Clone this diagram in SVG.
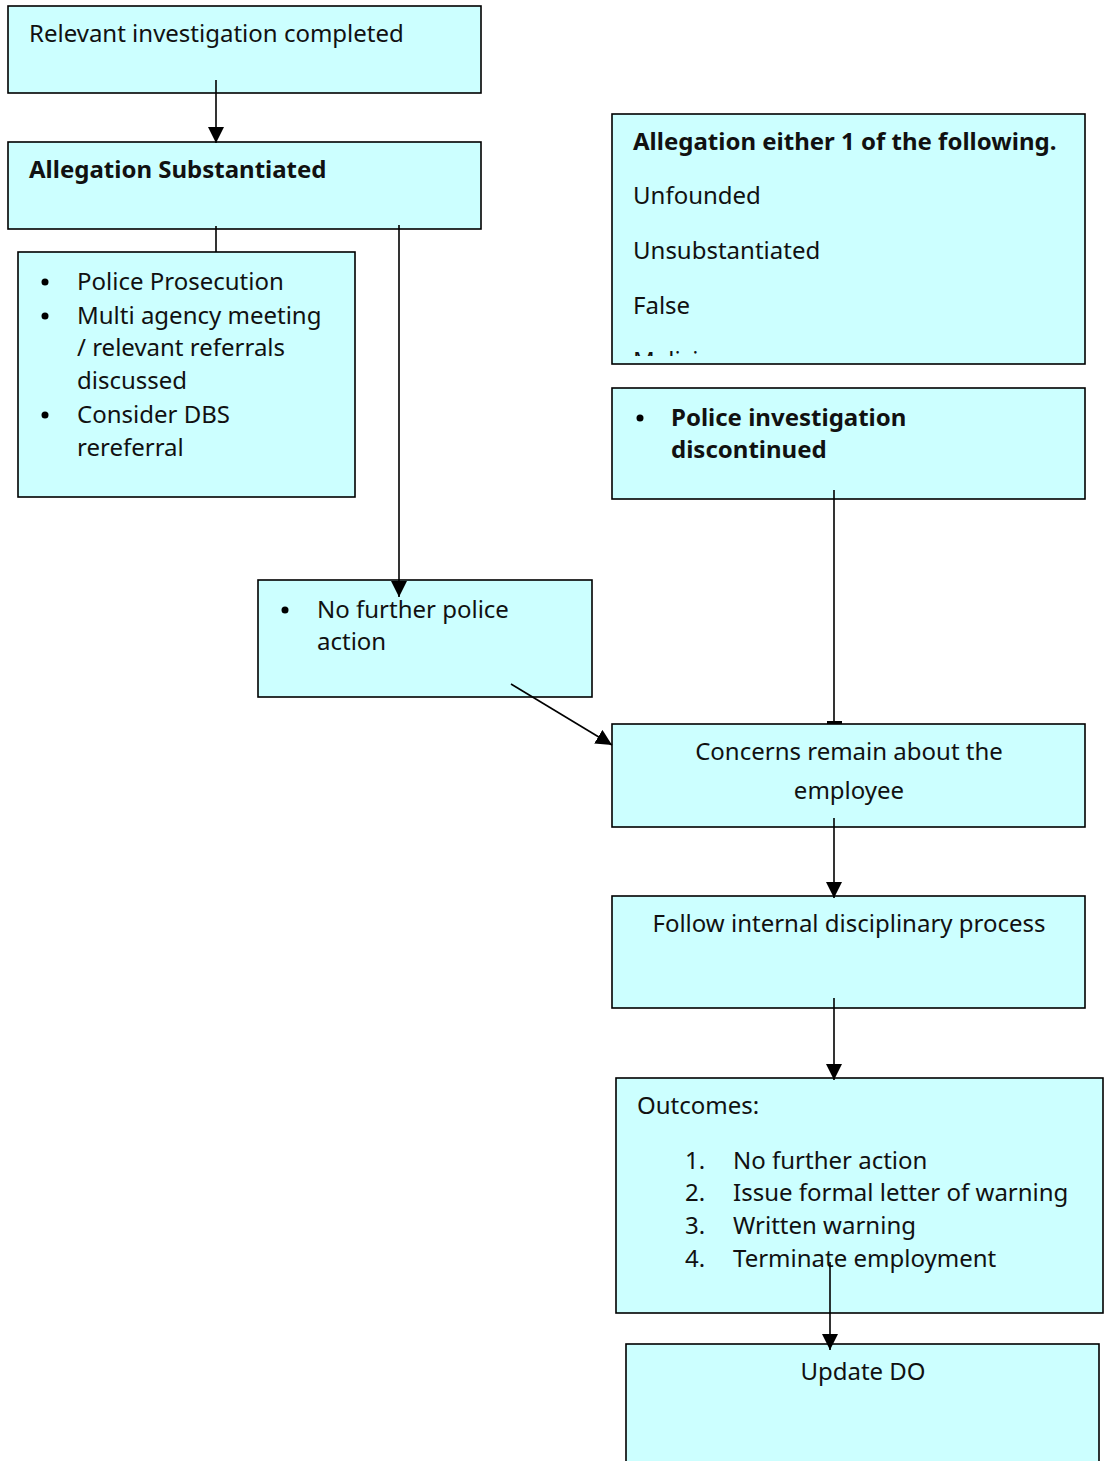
<svg xmlns="http://www.w3.org/2000/svg" width="1106" height="1461" viewBox="0 0 1106 1461">
<style>
.box{fill:#CCFFFF;stroke:#000;stroke-width:1.6}
text{font-family:"Noto Sans","Open Sans",sans-serif;font-size:24px;fill:#111}
.b{font-weight:bold}
.c{text-anchor:middle}
.ln{stroke:#000;stroke-width:1.6;fill:none}
</style>
<defs>
<marker id="a" viewBox="0 0 12 12" refX="12" refY="6" markerWidth="16" markerHeight="16" markerUnits="userSpaceOnUse" orient="auto"><path d="M0,0 L12,6 L0,12 z" fill="#000"/></marker>
<clipPath id="clip4"><rect x="612" y="114" width="473" height="242"/></clipPath>
</defs>
<rect width="1106" height="1461" fill="#fff"/>
<g id="n1"><rect class="box" x="8" y="6" width="473" height="87"/><text x="29" y="42">Relevant investigation completed</text></g>
<g id="n2"><rect class="box" x="8" y="142" width="473" height="87"/><text class="b" x="29" y="178">Allegation Substantiated</text></g>
<g id="n3"><rect class="box" x="18" y="252" width="337" height="245"/>
<circle cx="45" cy="282" r="3.5" fill="#000"/><circle cx="45" cy="316" r="3.5" fill="#000"/><circle cx="45" cy="415" r="3.5" fill="#000"/>
<text x="77" y="290">Police Prosecution</text><text x="77" y="324">Multi agency meeting</text><text x="77" y="356">/ relevant referrals</text><text x="77" y="389">discussed</text><text x="77" y="423">Consider DBS</text><text x="77" y="456">rereferral</text></g>
<g id="n4"><rect class="box" x="612" y="114" width="473" height="250"/>
<text class="b" x="633" y="150">Allegation either 1 of the following.</text>
<text x="633" y="204">Unfounded</text><text x="633" y="259">Unsubstantiated</text><text x="633" y="314">False</text>
<text x="633" y="369" clip-path="url(#clip4)">Malicious</text></g>
<g id="n5"><rect class="box" x="612" y="388" width="473" height="111"/>
<circle cx="640" cy="418" r="3.5" fill="#000"/>
<text class="b" x="671" y="426">Police investigation</text><text class="b" x="671" y="458">discontinued</text></g>
<g id="n6"><rect class="box" x="258" y="580" width="334" height="117"/>
<circle cx="285" cy="610" r="3.5" fill="#000"/>
<text x="317" y="618">No further police</text><text x="317" y="650">action</text></g>
<g id="n7"><rect class="box" x="612" y="724" width="473" height="103"/>
<text class="c" x="849" y="760">Concerns remain about the</text><text class="c" x="849" y="799">employee</text></g>
<g id="n8"><rect class="box" x="612" y="896" width="473" height="112"/>
<text class="c" x="849" y="932">Follow internal disciplinary process</text></g>
<g id="n9"><rect class="box" x="616" y="1078" width="487" height="235"/>
<text x="637" y="1114">Outcomes:</text>
<text x="685" y="1169">1.</text><text x="733" y="1169">No further action</text>
<text x="685" y="1201">2.</text><text x="733" y="1201">Issue formal letter of warning</text>
<text x="685" y="1234">3.</text><text x="733" y="1234">Written warning</text>
<text x="685" y="1267">4.</text><text x="733" y="1267">Terminate employment</text></g>
<g id="n10"><rect class="box" x="626" y="1344" width="473" height="120"/>
<text class="c" x="863" y="1380">Update DO</text></g>
<g id="connectors">
<line class="ln" x1="216" y1="80" x2="216" y2="143" marker-end="url(#a)"/>
<line class="ln" x1="216" y1="226" x2="216" y2="252"/>
<line class="ln" x1="399" y1="225" x2="399" y2="597" marker-end="url(#a)"/>
<line class="ln" x1="511" y1="684" x2="612" y2="745" marker-end="url(#a)"/>
<line class="ln" x1="834" y1="490" x2="834" y2="724"/>
<rect x="827" y="721" width="15" height="3" fill="#000"/>
<line class="ln" x1="834" y1="818" x2="834" y2="898" marker-end="url(#a)"/>
<line class="ln" x1="834" y1="998" x2="834" y2="1080" marker-end="url(#a)"/>
<line class="ln" x1="830" y1="1262" x2="830" y2="1350" marker-end="url(#a)"/>
</g>
</svg>
